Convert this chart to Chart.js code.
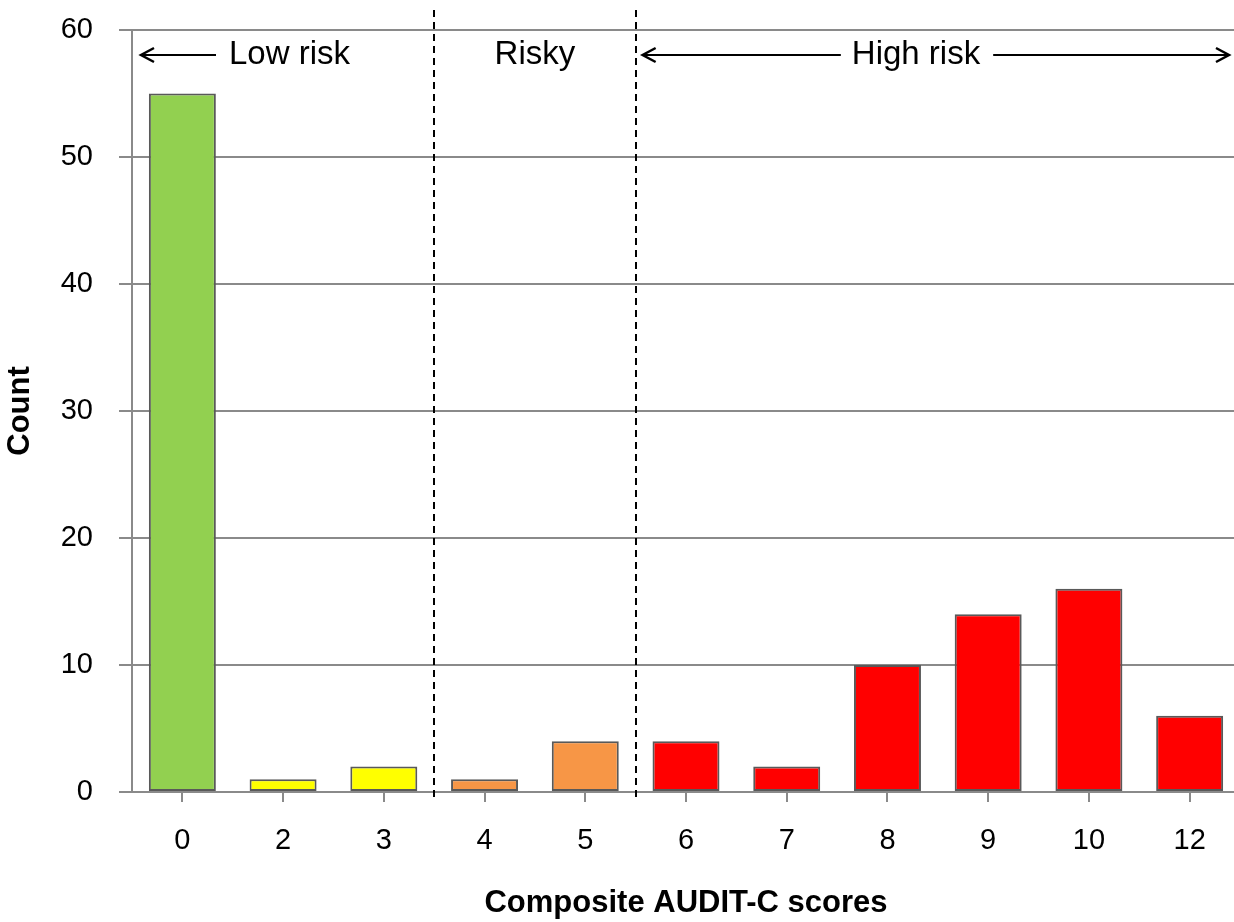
<!DOCTYPE html>
<html>
<head>
<meta charset="utf-8">
<script src="https://cdn.jsdelivr.net/npm/chart.js@4"></script>
<style>
  html, body { margin: 0; padding: 0; background: #fff; overflow: hidden; }
  #wrap { width: 1240px; height: 922px; }
</style>
</head>
<body>
<div id="wrap"><canvas id="myChart" width="1240" height="922"></canvas></div>
<script>
// AUDIT-C score distribution
const scores = ["0", "2", "3", "4", "5", "6", "7", "8", "9", "10", "12"];
const counts = [55, 1, 2, 1, 4, 4, 2, 10, 14, 16, 6];
// green = low risk, yellow/orange = risky, red = high risk
const barColors = ["#92D050", "#FFFF00", "#FFFF00", "#F79646", "#F79646", "#FF0000", "#FF0000", "#FF0000", "#FF0000", "#FF0000", "#FF0000"];
const yTicks = [0, 10, 20, 30, 40, 50, 60];

const gridColor = "#8a8a8a";
const font = "'Liberation Sans', Arial, sans-serif";

function arrowHead(ctx, x, y, dir) {
  ctx.beginPath();
  ctx.moveTo(x + dir * -13, y - 7);
  ctx.lineTo(x, y);
  ctx.lineTo(x + dir * -13, y + 7);
  ctx.stroke();
}

const riskZones = {
  id: "riskZones",
  afterDatasetsDraw(chart) {
    const { ctx, chartArea, scales: { x } } = chart;
    const cut1 = (x.getPixelForValue(2) + x.getPixelForValue(3)) / 2;
    const cut2 = (x.getPixelForValue(4) + x.getPixelForValue(5)) / 2;
    ctx.save();
    // dashed separators
    ctx.strokeStyle = "#000";
    ctx.lineWidth = 2;
    ctx.setLineDash([7, 5]);
    [cut1, cut2].forEach(cx => {
      ctx.beginPath();
      ctx.moveTo(Math.round(cx), chartArea.top - 20);
      ctx.lineTo(Math.round(cx), chartArea.bottom + 7);
      ctx.stroke();
    });
    ctx.setLineDash([]);

    const ty = chartArea.top + 25;
    ctx.font = "33px " + font;
    ctx.fillStyle = "#000";
    ctx.textBaseline = "middle";
    ctx.lineWidth = 2;

    // Low risk
    const lowStart = chartArea.left + 9;
    ctx.beginPath();
    ctx.moveTo(lowStart, ty);
    ctx.lineTo(lowStart + 75, ty);
    ctx.stroke();
    ctx.lineWidth = 2.5;
    arrowHead(ctx, lowStart, ty, -1);
    ctx.lineWidth = 2;
    ctx.textAlign = "left";
    ctx.fillText("Low risk", lowStart + 88, ty);

    // Risky
    ctx.textAlign = "center";
    ctx.fillText("Risky", (cut1 + cut2) / 2, ty);

    // High risk
    const hiMid = 916;
    const hiW = ctx.measureText("High risk").width;
    const hiEnd = 1229;
    ctx.fillText("High risk", hiMid, ty);
    ctx.beginPath();
    ctx.moveTo(cut2 + 7, ty);
    ctx.lineTo(hiMid - hiW / 2 - 11, ty);
    ctx.moveTo(hiMid + hiW / 2 + 13, ty);
    ctx.lineTo(hiEnd, ty);
    ctx.stroke();
    ctx.lineWidth = 2.5;
    arrowHead(ctx, cut2 + 7, ty, -1);
    arrowHead(ctx, hiEnd, ty, 1);
    ctx.restore();
  }
};

const ctx = document.getElementById("myChart").getContext("2d");
const myChart = new Chart(ctx, {
  type: "bar",
  data: {
    labels: scores,
    datasets: [{
      label: "Count",
      data: counts,
      backgroundColor: barColors,
      borderColor: "#595959",
      borderWidth: 2,
      borderSkipped: false,
      barPercentage: 0.665,
      categoryPercentage: 1
    }]
  },
  options: {
    responsive: false,
    animation: false,
    layout: { padding: { top: 30, right: 0, left: 0, bottom: 0 } },
    plugins: {
      legend: { display: false },
      tooltip: { enabled: false }
    },
    scales: {
      x: {
        afterFit(scale) { scale.height = 130; },
        grid: {
          offset: false,
          drawOnChartArea: false,
          drawTicks: true,
          tickLength: 10,
          color: gridColor,
          lineWidth: 2
        },
        border: { display: true, color: gridColor, width: 2 },
        ticks: {
          color: "#000",
          font: { family: font, size: 29 },
          padding: 22,
          maxRotation: 0
        },
        title: {
          display: true,
          text: "Composite AUDIT-C scores",
          color: "#000",
          font: { family: font, size: 31, weight: "bold" },
          padding: { top: 0, bottom: 0 }
        }
      },
      y: {
        min: 0,
        max: 60,
        afterFit(scale) {
          scale.width = 132;
          scale.paddingTop = 0;
          scale.paddingBottom = 0;
        },
        afterBuildTicks(scale) { scale.ticks = yTicks.map(v => ({ value: v })); },
        grid: {
          color: gridColor,
          lineWidth: 2,
          tickLength: 13
        },
        border: { display: true, color: gridColor, width: 2 },
        ticks: {
          color: "#000",
          font: { family: font, size: 29 },
          padding: 26
        },
        title: {
          display: true,
          text: "Count",
          color: "#000",
          font: { family: font, size: 31, weight: "bold" },
          padding: { top: 2, bottom: 2 }
        }
      }
    }
  },
  plugins: [riskZones]
});
</script>
</body>
</html>
